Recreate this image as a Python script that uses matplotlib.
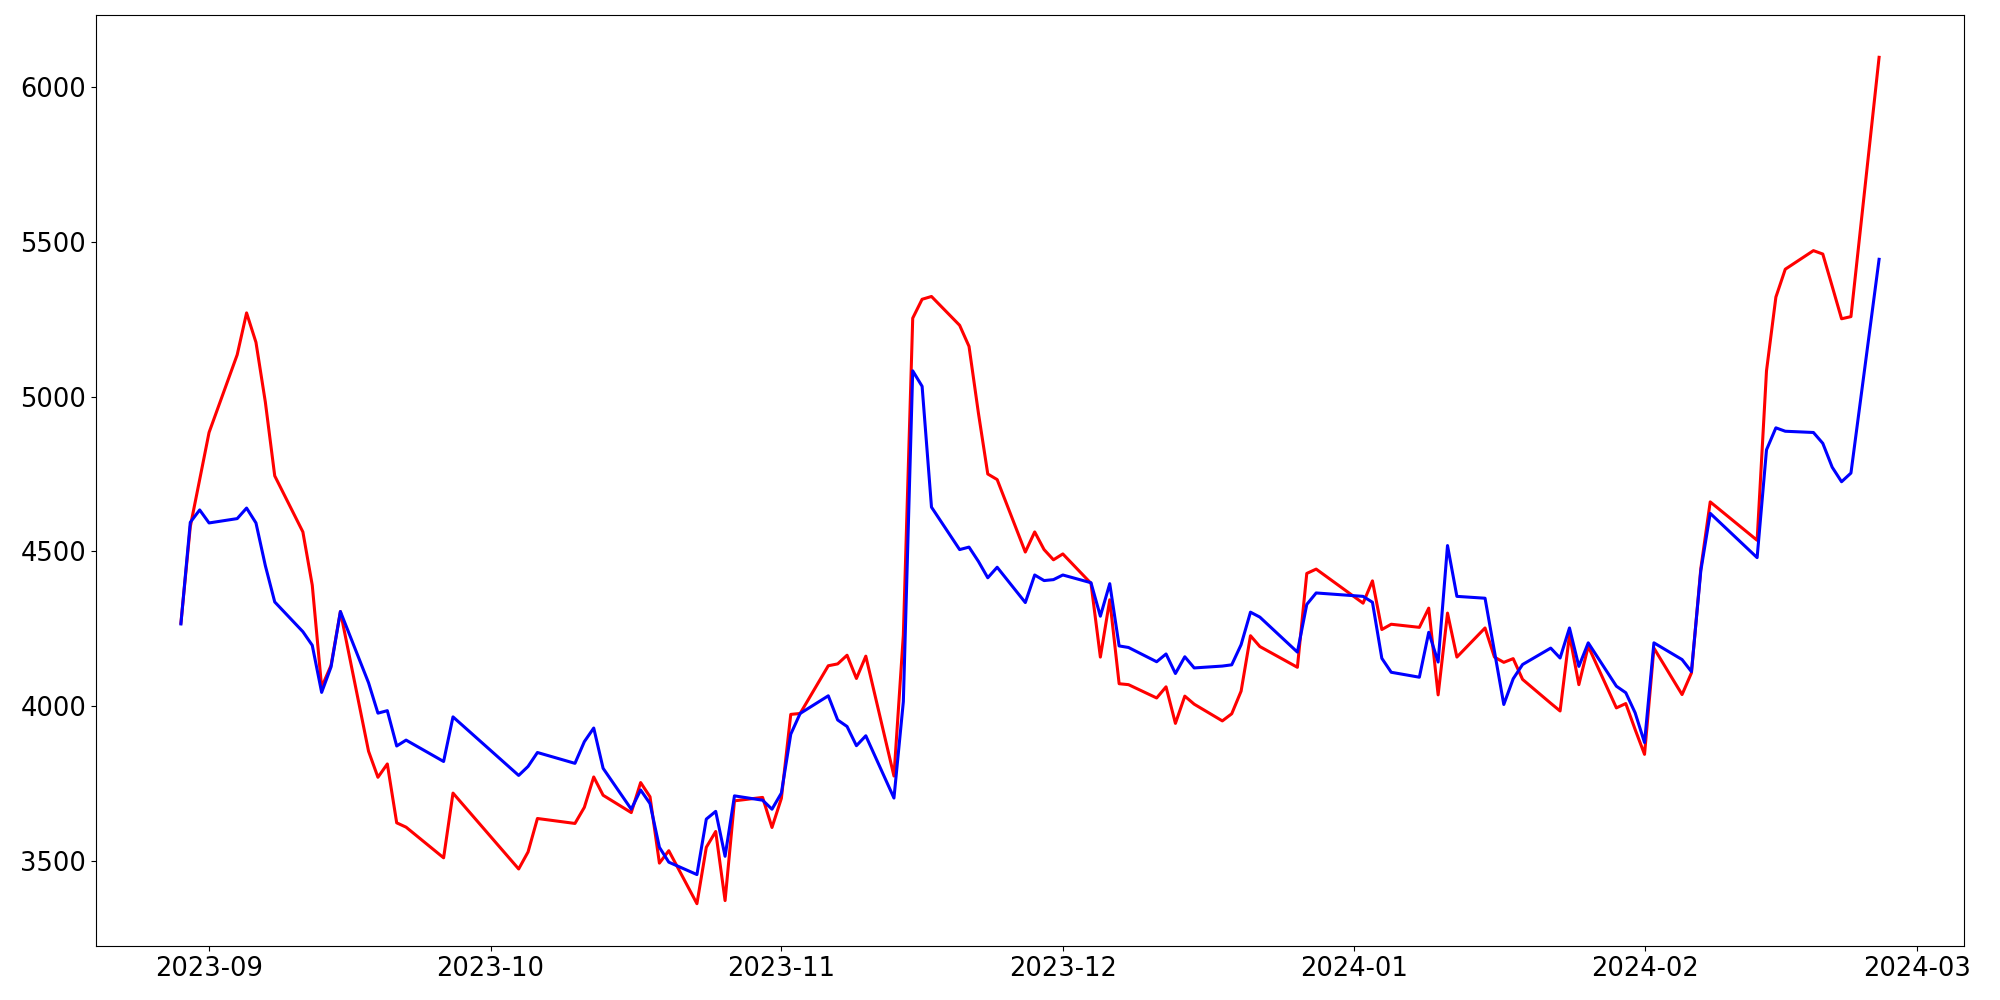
import matplotlib
matplotlib.use("Agg")
import matplotlib.pyplot as plt
import matplotlib.dates as mdates
import pandas as pd

# trading days (KRX calendar, with the gaps seen in the chart)
holidays = ["2023-09-25", "2023-09-28", "2023-09-29", "2023-10-02", "2023-10-03",
            "2023-10-09", "2023-12-25", "2023-12-29", "2024-01-01",
            "2024-02-09", "2024-02-12"]
dates = pd.bdate_range("2023-08-29", "2024-02-26")
dates = dates[~dates.isin(pd.to_datetime(holidays))]

red_values = [
    4269, 4580, 4732, 4884, 5135, 5270, 5175, 4982, 4744, 4563,
    4391, 4062, 4132, 4306, 3855, 3771, 3814, 3624, 3610, 3511,
    3720, 3475, 3530, 3638, 3622, 3674, 3772, 3713, 3657, 3754,
    3708, 3494, 3534, 3363, 3545, 3596, 3373, 3695, 3706, 3609,
    3703, 3974, 3977, 4131, 4137, 4165, 4090, 4162, 3775, 4230,
    5253, 5314, 5323, 5230, 5162, 4947, 4750, 4732, 4498, 4563,
    4506, 4473, 4492, 4397, 4159, 4344, 4073, 4070, 4027, 4063,
    3945, 4033, 4007, 3953, 3976, 4049, 4228, 4193, 4126, 4429,
    4443, 4333, 4405, 4248, 4265, 4255, 4317, 4037, 4301, 4159,
    4253, 4159, 4142, 4154, 4087, 4010, 3985, 4231, 4070, 4194,
    3995, 4009, 3925, 3845, 4188, 4038, 4108, 4445, 4660, 4536,
    5083, 5321, 5411, 5471, 5460, 5356, 5251, 5258, 6095,
]
blue_values = [
    4266, 4594, 4634, 4592, 4606, 4640, 4592, 4454, 4337, 4241,
    4197, 4045, 4127, 4306, 4076, 3978, 3986, 3872, 3891, 3822,
    3966, 3777, 3806, 3851, 3816, 3886, 3930, 3800, 3668, 3730,
    3686, 3545, 3497, 3457, 3636, 3661, 3516, 3711, 3697, 3668,
    3720, 3910, 3977, 4034, 3956, 3935, 3873, 3905, 3704, 4015,
    5083, 5033, 4643, 4506, 4514, 4468, 4415, 4449, 4335, 4424,
    4406, 4409, 4424, 4399, 4291, 4396, 4195, 4190, 4144, 4169,
    4106, 4160, 4124, 4130, 4134, 4199, 4304, 4288, 4175, 4329,
    4366, 4355, 4336, 4155, 4110, 4094, 4239, 4143, 4519, 4355,
    4349, 4178, 4006, 4089, 4135, 4188, 4156, 4253, 4129, 4205,
    4065, 4044, 3979, 3883, 4205, 4151, 4112, 4438, 4623, 4480,
    4828, 4899, 4888, 4884, 4849, 4772, 4725, 4753, 5443,
]

fig = plt.figure(figsize=(20, 10), dpi=100)
ax = fig.add_axes([0.048, 0.054, 0.934, 0.931])
ax.plot(dates, red_values, color="red", linewidth=2.2)
ax.plot(dates, blue_values, color="blue", linewidth=2.2)

ax.xaxis.set_major_locator(mdates.MonthLocator())
ax.xaxis.set_major_formatter(mdates.DateFormatter("%Y-%m"))
ax.tick_params(labelsize=18.5)

fig.savefig("out.png", dpi=100)
